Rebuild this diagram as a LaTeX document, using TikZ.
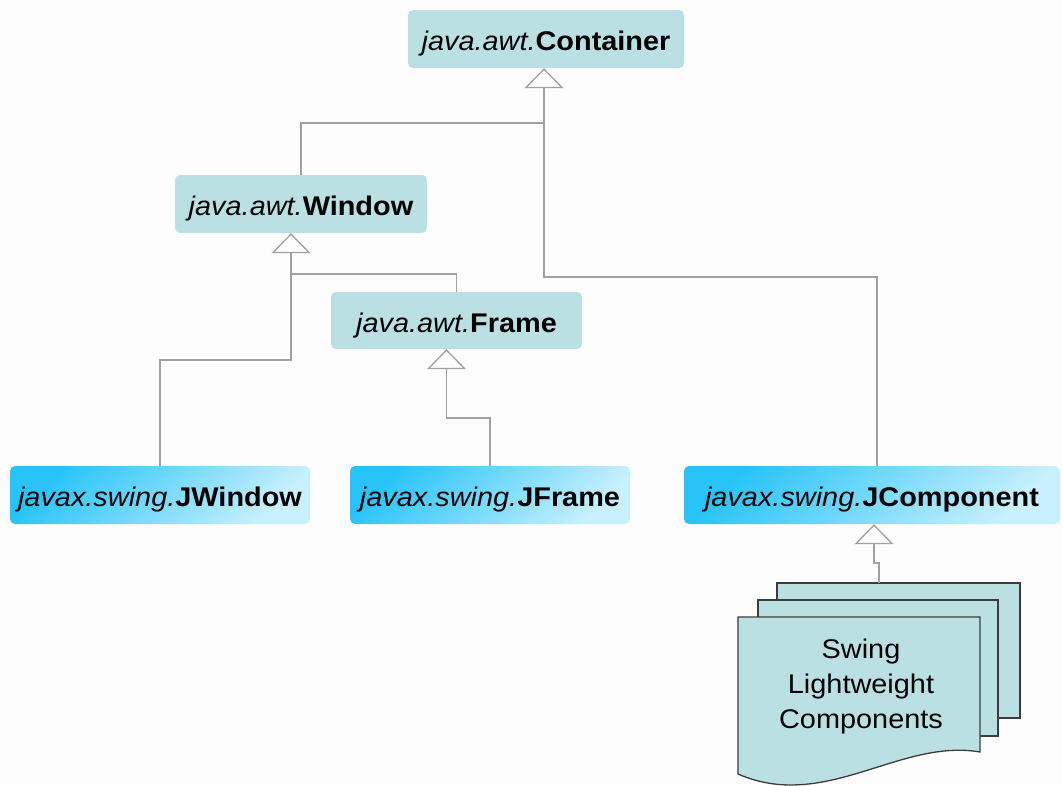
\documentclass[tikz,border=0pt]{standalone}
\usepackage{fontspec}
\setmainfont[FakeStretch=1.07]{Liberation Sans}
\usetikzlibrary{arrows.meta}
\definecolor{boxteal}{RGB}{187,224,228}
\definecolor{skydark}{RGB}{40,196,248}
\definecolor{skylight}{RGB}{200,240,255}
\definecolor{linkgray}{RGB}{160,160,160}
\definecolor{docedge}{RGB}{60,60,60}
\definecolor{bgcol}{RGB}{253,253,253}
\tikzset{
  classbox/.style={rounded corners=5pt, minimum height=58pt, inner sep=0pt,
    font=\fontsize{27}{32}\selectfont, text height=29pt, text depth=6pt},
  awtbox/.style={classbox, fill=boxteal},
  swingbox/.style={classbox, top color=skydark, bottom color=skylight, shading angle=45},
  link/.style={draw=linkgray, line width=1.3pt},
  inherit/.style={link, {Triangle[open, width=39pt, length=20pt]}-},
  docsheet/.style={fill=boxteal, draw=docedge, line width=1.3pt},
  doctext/.style={align=center, font=\fontsize{27}{35}\selectfont, inner sep=0pt}
}
\begin{document}
\begin{tikzpicture}[x=1pt, y=-1pt]
\useasboundingbox (0,0) rectangle (1062,785);
\fill[bgcol] (0,0) rectangle (1062,785);

% class boxes
\node[awtbox, minimum width=276pt] (cont) at (546,39) {\textit{java.awt.}\textbf{Container}};
\node[awtbox, minimum width=252pt] (win) at (301,204) {\textit{java.awt.}\textbf{Window}};
\node[awtbox, minimum width=251pt, minimum height=57pt] (frame) at (456.5,320.5) {\textit{java.awt.}\textbf{Frame}};
\node[swingbox, minimum width=300pt] (jwin) at (160,495) {\textit{javax.swing.}\textbf{JWindow}};
\node[swingbox, minimum width=280pt] (jframe) at (490,495) {\textit{javax.swing.}\textbf{JFrame}};
\node[swingbox, minimum width=376pt] (jcomp) at (872,495) {\textit{javax.swing.}\textbf{JComponent}};

% documents
\filldraw[docsheet] (777,583) rectangle (1020,718);
\filldraw[docsheet] (758,600) rectangle (998,736);
\filldraw[docsheet] (738,617) -- (980,617) -- (980,752)
  .. controls (900,738) and (825,812) .. (738,774) -- cycle;
\node[doctext] (docs) at (861,687) {Swing\\Lightweight\\Components};
\coordinate (docstop) at (879,583);

% junctions
\coordinate (jc) at (544,123);
\coordinate (jw) at (291,274);

% connectors
\draw[inherit] ([xshift=-2pt]cont.south) -- ([xshift=-2pt]cont.south |- 0,277) -| ([xshift=5pt]jcomp.north);
\draw[link] (win.north) |- (jc);
\draw[inherit] ([xshift=-10pt]win.south) -- ([xshift=-10pt]win.south |- 0,360) -| (jwin.north);
\draw[link] (jw) -| (frame.north);
\draw[inherit] ([xshift=-10pt]frame.south) -- ([xshift=-10pt]frame.south |- 0,418) -| (jframe.north);
\draw[inherit] ([xshift=2pt]jcomp.south) -- ([xshift=2pt]jcomp.south |- 0,563) -| (docstop);
\end{tikzpicture}
\end{document}
